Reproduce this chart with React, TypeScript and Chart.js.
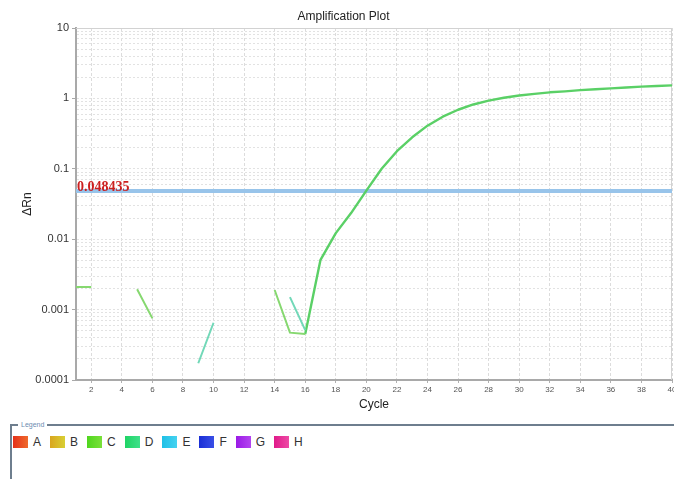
import React, { useEffect, useRef } from "react";
import { Chart, registerables } from "chart.js";

Chart.register(...registerables);

const cycles = [1, 2, 3, 4, 5, 6, 7, 8, 9, 10, 11, 12, 13, 14, 15, 16, 17, 18, 19, 20, 21, 22, 23, 24, 25, 26, 27, 28, 29, 30, 31, 32, 33, 34, 35, 36, 37, 38, 39, 40];

const seriesC = [0.0021, 0.0021, null, null, 0.00195, 0.00075, null, null, null, null, null, null, null, 0.0019, 0.00047, 0.00045, null, null, null, null, null, null, null, null, null, null, null, null, null, null, null, null, null, null, null, null, null, null, null, null];

const seriesE = [null, null, null, null, null, null, null, null, 0.000173, 0.00065, null, null, null, null, 0.0015, 0.00051, null, null, null, null, null, null, null, null, null, null, null, null, null, null, null, null, null, null, null, null, null, null, null, null];

const seriesD = [null, null, null, null, null, null, null, null, null, null, null, null, null, null, null, 0.00045, 0.0051, 0.0122, 0.0235, 0.049, 0.1, 0.178, 0.28, 0.41, 0.55, 0.69, 0.82, 0.93, 1.02, 1.1, 1.16, 1.22, 1.26, 1.31, 1.35, 1.39, 1.43, 1.47, 1.5, 1.53];

const threshold = 0.048435;
const thresholdLabel = "0.048435";

const xTickValues = [2, 4, 6, 8, 10, 12, 14, 16, 18, 20, 22, 24, 26, 28, 30, 32, 34, 36, 38, 40];
const yTickValues = [0.0001, 0.001, 0.01, 0.1, 1, 10];
const yTickLabels = ["0.0001", "0.001", "0.01", "0.1", "1", "10"];

const legendLabels = ["A", "B", "C", "D", "E", "F", "G", "H"];
const legendColors = [
  ["#e5301a", "#ef6a2c"],
  ["#d9a51f", "#d8cf34"],
  ["#4fd61e", "#7ae03a"],
  ["#1fd465", "#3fe08a"],
  ["#1fc0e6", "#45d2f0"],
  ["#1a2fd6", "#3a4fe6"],
  ["#9a1ae6", "#b445f0"],
  ["#e01a8a", "#ee4aa5"],
];

const FONT = "'Liberation Sans', Arial, sans-serif";

function toPoints(vals: (number | null)[]) {
  return cycles.map((c, i) => ({ x: c, y: vals[i] }));
}

function isDecade(v: number) {
  const l = Math.log10(v);
  return Math.abs(l - Math.round(l)) < 1e-6;
}

const areaPlugin = {
  id: "areaBorder",
  beforeDatasetsDraw(chart: any) {
    const { ctx, chartArea } = chart;
    ctx.save();
    ctx.strokeStyle = "#d2d2d2";
    ctx.lineWidth = 1;
    ctx.beginPath();
    ctx.moveTo(chartArea.left, chartArea.top + 0.5);
    ctx.lineTo(chartArea.right, chartArea.top + 0.5);
    ctx.moveTo(chartArea.right - 0.5, chartArea.top);
    ctx.lineTo(chartArea.right - 0.5, chartArea.bottom);
    ctx.stroke();
    ctx.restore();
  },
  afterDatasetsDraw(chart: any) {
    const { ctx, chartArea } = chart;
    const y = chart.scales.y.getPixelForValue(threshold);
    ctx.save();
    ctx.fillStyle = "#cc1f1f";
    ctx.font = "bold 14px 'Liberation Serif', 'Times New Roman', serif";
    ctx.textAlign = "left";
    ctx.textBaseline = "alphabetic";
    ctx.fillText(thresholdLabel, chartArea.left + 1, y);
    ctx.restore();
  },
};

function AmplificationChart() {
  const ref = useRef<HTMLCanvasElement | null>(null);
  useEffect(() => {
    if (!ref.current) return;
    const yGrid: number[] = [];
    for (let e = -4; e <= 0; e++) {
      for (let m = 1; m <= 9; m++) yGrid.push(m * Math.pow(10, e));
    }
    yGrid.push(10);
    const chart = new Chart(ref.current, {
      type: "line",
      data: {
        datasets: [
          {
            label: "C",
            data: toPoints(seriesC),
            borderColor: "#86d870",
            borderWidth: 2,
            pointRadius: 0,
            spanGaps: false,
            tension: 0,
          },
          {
            label: "E",
            data: toPoints(seriesE),
            borderColor: "#72d8b8",
            borderWidth: 2,
            pointRadius: 0,
            spanGaps: false,
            tension: 0,
          },
          {
            label: "D",
            data: toPoints(seriesD),
            borderColor: "#5ad066",
            borderWidth: 2.4,
            pointRadius: 0,
            spanGaps: false,
            tension: 0,
            borderJoinStyle: "round",
          },
          {
            label: "Threshold",
            data: [
              { x: cycles[0], y: threshold },
              { x: cycles[cycles.length - 1], y: threshold },
            ],
            borderColor: "#98c4ea",
            borderWidth: 4,
            pointRadius: 0,
          },
        ],
      } as any,
      options: {
        animation: false,
        responsive: false,
        layout: { padding: { top: 28, left: 0, right: 2, bottom: 0 } },
        plugins: {
          legend: { display: false },
          title: { display: false },
          tooltip: { enabled: false },
        },
        scales: {
          x: {
            type: "linear",
            min: 1,
            max: 40,
            afterBuildTicks: (scale: any) => {
              scale.ticks = xTickValues.map((v) => ({ value: v }));
            },
            afterFit: (scale: any) => {
              scale.height = 40;
              scale.paddingLeft = 0;
              scale.paddingRight = 0;
            },
            ticks: {
              autoSkip: false,
              maxRotation: 0,
              padding: 2,
              color: "#555",
              font: { family: FONT, size: 8 },
              callback: (v: any) => String(v),
            },
            grid: {
              color: "#dcdcdc",
              lineWidth: 1,
              drawTicks: true,
              tickLength: 3,
              tickColor: "#b0b0b0",
            },
            border: { display: true, color: "#a9a9a9", width: 2, dash: [3, 2] },
            title: {
              display: true,
              text: "Cycle",
              color: "#222",
              font: { family: FONT, size: 12 },
              padding: { top: 2, bottom: 8 },
            },
          },
          y: {
            type: "logarithmic",
            min: 0.0001,
            max: 10,
            afterBuildTicks: (scale: any) => {
              scale.ticks = yGrid.map((v) => ({ value: v, major: isDecade(v) }));
            },
            afterFit: (scale: any) => {
              scale.width = 76;
              scale.paddingTop = 0;
              scale.paddingBottom = 0;
            },
            ticks: {
              autoSkip: false,
              padding: 3,
              color: "#333",
              font: { family: FONT, size: 11 },
              callback: (v: any) => {
                const idx = yTickValues.findIndex((t) => Math.abs(Math.log10(t) - Math.log10(v)) < 1e-6);
                return idx >= 0 ? yTickLabels[idx] : "";
              },
            },
            grid: {
              color: "#e2e2e2",
              lineWidth: 1,
              drawTicks: true,
              tickLength: 4,
              tickColor: (ctx: any) => (ctx.tick && isDecade(ctx.tick.value) ? "#a9a9a9" : "rgba(0,0,0,0)"),
            },
            border: { display: true, color: "#a9a9a9", width: 2, dash: [2, 2] },
            title: {
              display: true,
              text: "ΔRn",
              color: "#222",
              font: { family: FONT, size: 12 },
              padding: { top: 20, bottom: 0 },
            },
          },
        },
      } as any,
      plugins: [areaPlugin],
    });
    return () => chart.destroy();
  }, []);
  return <canvas ref={ref} width={674} height={420} style={{ display: "block" }} />;
}

export default function App() {
  return (
    <div
      style={{
        position: "fixed",
        left: 0,
        top: 0,
        width: 674,
        height: 479,
        overflow: "hidden",
        background: "#fff",
        fontFamily: FONT,
      }}
    >
      <div style={{ position: "absolute", left: 0, top: 0, width: 674, height: 420 }}>
        <AmplificationChart />
      </div>
      <div
        style={{
          position: "absolute",
          left: 0,
          top: 8,
          width: 687,
          textAlign: "center",
          fontSize: 12,
          lineHeight: "16px",
          color: "#222",
        }}
      >
        Amplification Plot
      </div>
      <div
        style={{
          position: "absolute",
          left: 10,
          top: 424,
          width: 664,
          height: 60,
          borderTop: "2px solid #6e7e8e",
          borderLeft: "2px solid #6e7e8e",
          boxSizing: "border-box",
        }}
      >
        <span
          style={{
            position: "absolute",
            left: 6,
            top: -6,
            fontSize: 7,
            lineHeight: "10px",
            color: "#6d8cb0",
            background: "#fff",
            padding: "0 3px",
          }}
        >
          Legend
        </span>
        <div style={{ position: "absolute", left: 1, top: 9, display: "flex", alignItems: "center" }}>
          {legendLabels.map((lab, i) => (
            <div key={lab} style={{ display: "flex", alignItems: "center", marginRight: 9 }}>
              <div
                style={{
                  width: 15,
                  height: 12,
                  background: `linear-gradient(90deg, ${legendColors[i][0]}, ${legendColors[i][1]})`,
                }}
              />
              <span style={{ marginLeft: 5, fontSize: 12, color: "#333" }}>{lab}</span>
            </div>
          ))}
        </div>
      </div>
    </div>
  );
}
